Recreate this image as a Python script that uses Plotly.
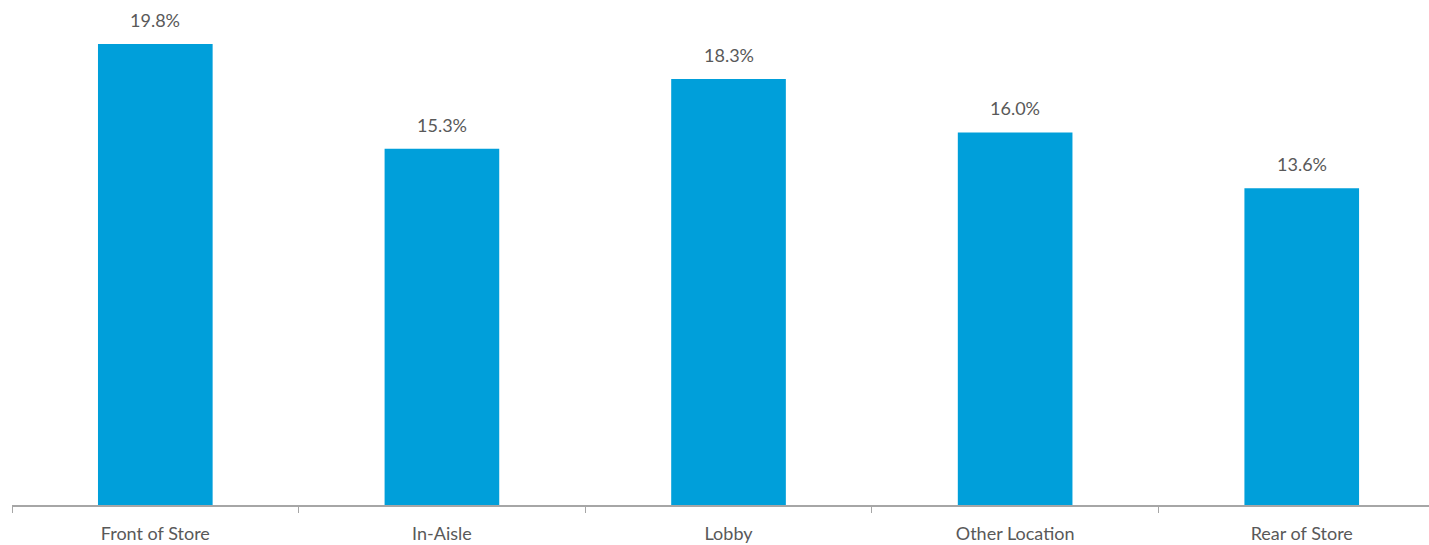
import plotly.graph_objects as go

categories = ["Front of Store", "In-Aisle", "Lobby", "Other Location", "Rear of Store"]
values = [19.8, 15.3, 18.3, 16.0, 13.6]
labels = [f"{v:.1f}%" for v in values]

BAR_COLOR = "#009FDA"
TEXT_COLOR = "#595959"
FONT = "Lato"

fig = go.Figure(go.Bar(x=categories, y=values, marker=dict(color=BAR_COLOR, line=dict(width=0)),
                       hoverinfo="skip"))

for c, v, t in zip(categories, values, labels):
    fig.add_annotation(x=c, y=v, text=t, showarrow=False, yanchor="bottom", yshift=11,
                       font=dict(family=FONT, size=18, color=TEXT_COLOR))

fig.update_layout(
    width=1429, height=545,
    margin=dict(l=12, r=0, t=0, b=40),
    plot_bgcolor="white", paper_bgcolor="white",
    bargap=0.6, showlegend=False,
    font=dict(family=FONT, size=18, color=TEXT_COLOR),
)
fig.update_xaxes(range=[-0.5, 4.444], showline=True, linecolor="#A6A6A6", linewidth=1.5,
                 ticks="outside", tickson="boundaries", ticklen=6, tickcolor="#A6A6A6",
                 ticklabelstandoff=12,
                 tickfont=dict(family=FONT, size=18, color=TEXT_COLOR), showgrid=False)
fig.update_yaxes(range=[0, 21.69], visible=False, showgrid=False)

fig.write_html("out.html", config={"displayModeBar": False},
               post_script="document.body.style.margin='0';document.body.style.overflow='hidden';")
